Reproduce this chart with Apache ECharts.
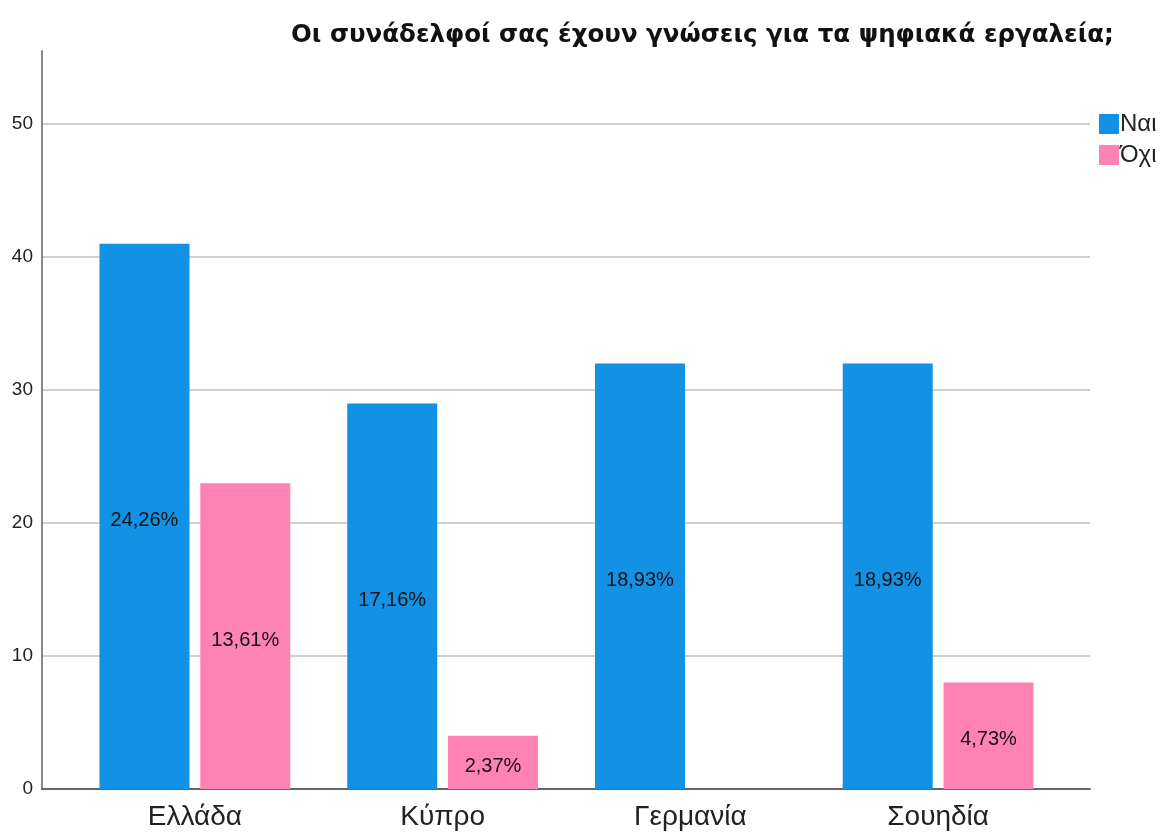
<!DOCTYPE html>
<html lang="el">
<head>
    <meta charset="UTF-8">
    <title>Γνώσεις ψηφιακών εργαλείων</title>
    <script src="https://cdn.jsdelivr.net/npm/echarts@6/dist/echarts.min.js"></script>
</head>
<body style="margin:0;background:#fff">
<div id="container" style="width:1162px;height:832px"></div>
<script type="text/javascript">
    // δεδομένα
    let countries = ['Ελλάδα', 'Κύπρο', 'Γερμανία', 'Σουηδία'];
    let nai = [41, 29, 32, 32];
    let oxi = [23, 4, 0, 8];
    let yTicks = [0, 10, 20, 30, 40, 50];

    let total = nai.concat(oxi).reduce((a, b) => a + b, 0);
    let font = 'Liberation Sans, Arial, sans-serif';

    function pct(p) {
        if (!p.value) return '';
        return (p.value / total * 100).toFixed(2).replace('.', ',') + '%';
    }

    let myChart = echarts.init(document.getElementById('container'));
    let option = {
        animation: false,
        textStyle: {fontFamily: font},
        title: {
            text: 'Οι συνάδελφοί σας έχουν γνώσεις για τα ψηφιακά εργαλεία;',
            left: 286,
            top: 18,
            textStyle: {fontSize: 24.5, fontWeight: 'bold', color: '#111', fontFamily: 'DejaVu Sans'}
        },
        legend: {
            orient: 'vertical',
            left: 1094,
            top: 107,
            itemWidth: 20,
            itemHeight: 20,
            itemGap: 7,
            icon: 'rect',
            textStyle: {fontSize: 24, color: '#222', padding: [0, 0, 0, -4]},
            data: ['Ναι', 'Όχι']
        },
        grid: [
            {left: 42, right: 72, top: 51, bottom: 43},   // άξονες / γραμμές
            {left: 71, right: 100, top: 51, bottom: 43}   // ράβδοι
        ],
        xAxis: [
            {
                gridIndex: 0, type: 'category', data: [''],
                axisLine: {lineStyle: {color: '#666', width: 2}},
                axisTick: {show: false}, axisLabel: {show: false}
            },
            {
                gridIndex: 1, type: 'category', data: countries,
                axisLine: {show: false}, axisTick: {show: false},
                axisLabel: {fontSize: 28, color: '#222', margin: 14}
            }
        ],
        yAxis: [
            {
                gridIndex: 0, type: 'value', min: 0, max: 55.5, interval: 10,
                axisLine: {show: true, lineStyle: {color: '#888', width: 2}},
                axisTick: {show: false},
                axisLabel: {
                    fontSize: 19, color: '#222', margin: 9, showMaxLabel: false,
                    formatter: v => yTicks.indexOf(v) >= 0 ? String(v) : ''
                },
                splitLine: {show: true, showMaxLine: false, lineStyle: {color: '#cfcfcf', width: 2}}
            },
            {
                gridIndex: 1, type: 'value', min: 0, max: 55.5, interval: 10,
                axisLine: {show: false}, axisTick: {show: false},
                axisLabel: {show: false}, splitLine: {show: false}
            }
        ],
        series: [
            {
                name: 'Ναι', type: 'bar', xAxisIndex: 1, yAxisIndex: 1,
                barWidth: 90, barGap: '12%',
                itemStyle: {color: '#1391E5'},
                label: {show: true, position: 'inside', offset: [0, 4], fontSize: 20, color: '#111', formatter: pct},
                data: nai
            },
            {
                name: 'Όχι', type: 'bar', xAxisIndex: 1, yAxisIndex: 1,
                barWidth: 90, barGap: '12%',
                itemStyle: {color: '#FF82B4'},
                label: {show: true, position: 'inside', offset: [0, 4], fontSize: 20, color: '#111', formatter: pct},
                data: oxi
            }
        ]
    };
    myChart.setOption(option);
</script>
</body>
</html>
